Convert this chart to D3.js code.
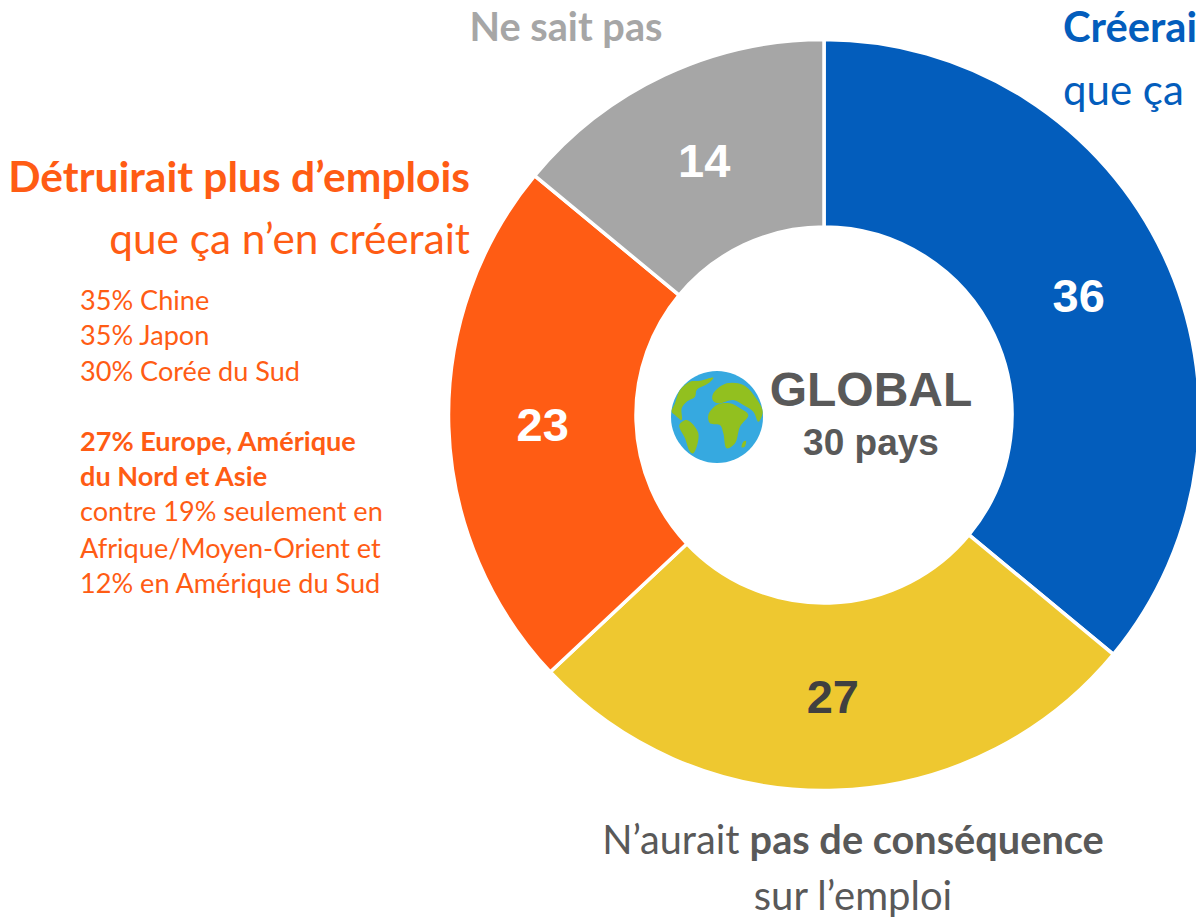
<!DOCTYPE html>
<html><head><meta charset="utf-8">
<script src="https://cdn.jsdelivr.net/npm/d3@7/dist/d3.min.js"></script>
<style>html,body{margin:0;padding:0;background:#fff;overflow:hidden}svg{display:block}</style>
</head><body><svg id="c" width="1196" height="918"></svg>
<script>
const categories=["Créerait","Aucune conséquence","Détruirait","Ne sait pas"];
const values=[36,27,23,14];
const colors=["#035dbc","#eec830","#ff5c14","#a6a6a6"];
const labelColors=["#fff","#404040","#fff","#fff"];
const svg=d3.select("#c");
const cx=824,cy=415,R=375.5,r=188;
const pie=d3.pie().sort(null).value(d=>d)(values);
const arc=d3.arc().innerRadius(r).outerRadius(R);
const g=svg.append("g").attr("transform",`translate(${cx},${cy})`);
g.selectAll("path").data(pie).join("path").attr("d",arc)
 .attr("fill",(d,i)=>colors[i]).attr("stroke","#fff").attr("stroke-width",3.5);
const mid=d3.arc().innerRadius((374+189)/2).outerRadius((374+189)/2);
g.selectAll("text").data(pie).join("text").text(d=>d.data)
 .attr("transform",d=>`translate(${mid.centroid(d)})`)
 .attr("text-anchor","middle").attr("dy","0.36em")
 .attr("font-family","Liberation Sans").attr("font-weight","700").attr("font-size",47)
 .attr("fill",(d,i)=>labelColors[i]);
const T=(x,y,s,o={})=>{const t=svg.append("text").attr("x",x).attr("y",y)
 .attr("font-family",o.f||"Lato").attr("font-size",o.s||36).attr("fill",o.c||"#595959")
 .attr("text-anchor",o.a||"start");
 (Array.isArray(s)?s:[[s,o.w]]).forEach(p=>t.append("tspan").text(p[0]).attr("font-weight",p[1]||400));return t;};
const OR="#ff5c14",BL="#035dbc";
T(566,41,"Ne sait pas",{a:"middle",c:"#a6a6a6",w:700,s:39.7});
T(1063,42,"Créerai",{c:BL,w:700,s:41.7});
T(1063,105,"que ça",{c:BL,s:42});
T(470,192,"Détruirait plus d’emplois",{a:"end",c:OR,w:700,s:42.5});
T(470,254,"que ça n’en créerait",{a:"end",c:OR,s:42.3});
[["35% Chine",310],["35% Japon",345],["30% Corée du Sud",381],["27% Europe, Amérique",451,700],["du Nord et Asie",486,700],["contre 19% seulement en",521],["Afrique/Moyen-Orient et",558],["12% en Amérique du Sud",593]]
 .forEach(d=>T(80,d[1],d[0],{c:OR,s:27.1,w:d[2]}));
T(853,854,[["N’aurait ",400],["pas de conséquence",700]],{a:"middle",s:39.7});
T(853,910,"sur l’emploi",{a:"middle",s:40});
T(871,406,"GLOBAL",{a:"middle",f:"Liberation Sans",w:700,s:48});
T(871,455,"30 pays",{a:"middle",f:"Liberation Sans",w:700,s:37});
// globe icon (shapes in zoomed-crop units, scaled by 1/3 around its centre)
const globe=svg.append("g").attr("transform","translate(717,417) scale(0.3333) translate(-231,-231)");
globe.append("circle").attr("cx",231).attr("cy",231).attr("r",138).attr("fill","#36a9e0");
const land=[
 [[95,215],[105,190],[120,150],[150,125],[180,122],[220,113],[205,130],[170,150],[165,170],[140,185],[125,205],[125,240],[105,225]],
 [[118,255],[140,240],[175,280],[160,340],[150,335],[135,295]],
 [[220,160],[260,130],[310,135],[345,170],[368,215],[355,245],[340,215],[310,195],[280,180],[235,190],[218,180]],
 [[205,225],[230,195],[270,190],[300,205],[325,225],[300,260],[285,310],[260,325],[250,280],[240,255],[210,250]],
 [[305,322],[310,305],[318,303],[314,320]]
];
const ln=d3.line().curve(d3.curveCatmullRomClosed);
globe.selectAll("path").data(land).join("path").attr("d",ln).attr("fill","#92c01f");
</script></body></html>
